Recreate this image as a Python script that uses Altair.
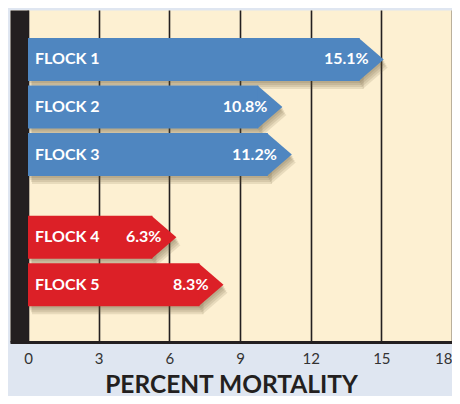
import altair as alt
import pandas as pd

flocks = ["FLOCK 1", "FLOCK 2", "FLOCK 3", "FLOCK 4", "FLOCK 5"]
mortality = [15.1, 10.8, 11.2, 6.3, 8.3]
groups = ["A", "A", "A", "B", "B"]
group_colors = ["#4f86c0", "#dc2027"]
x_ticks = [0, 3, 6, 9, 12, 15, 18]

GAP = 0.74
HALF = 0.4526
df = pd.DataFrame({"flock": flocks, "value": mortality, "group": groups})
df["row"] = range(len(df))
df["pos"] = df["row"] + df["group"].eq("B") * GAP
df["label"] = df["value"].map(lambda v: f"{v:.1f}%")

xscale = alt.Scale(domain=[-0.764, 18], nice=False, zero=False, padding=0)
yscale = alt.Scale(domain=[-1.042, 5.947], reverse=True, nice=False, zero=False, padding=0)
cscale = alt.Scale(domain=["A", "B"], range=group_colors)
XT = "PERCENT MORTALITY"
xaxis = alt.Axis(values=x_ticks, labelFlush=True)

base = alt.Chart(df).transform_calculate(
    top=f"datum.pos - {HALF}", bot=f"datum.pos + {HALF}", zero="0"
)

ARROW = "M -1.16 -1 L 0 0 L -1.16 1 Z"
layers = []
for dx, dy in [(1, 2), (2, 4), (3, 6), (4, 8)]:
    layers.append(base.mark_rect(color="#5a4a30", opacity=0.13, xOffset=dx, x2Offset=dx - 24,
                                 yOffset=dy, y2Offset=dy).encode(
        x=alt.X("zero:Q", scale=xscale, title=XT, axis=xaxis),
        x2=alt.X2("value:Q"),
        y=alt.Y("top:Q", scale=yscale, title=""),
        y2="bot:Q",
    ))
    layers.append(base.mark_point(shape=ARROW, size=1849, filled=True, opacity=0.13,
                                  color="#5a4a30", strokeWidth=0, xOffset=dx, yOffset=dy).encode(
        x=alt.X("value:Q", scale=xscale, title=XT, axis=xaxis),
        y=alt.Y("pos:Q", scale=yscale, title=""),
    ))

bars = base.mark_rect(x2Offset=-24).encode(
    x=alt.X("zero:Q", scale=xscale, title=XT, axis=xaxis),
    x2=alt.X2("value:Q"),
    y=alt.Y("top:Q", scale=yscale, title=""),
    y2="bot:Q",
    color=alt.Color("group:N", scale=cscale, legend=None),
)
tips = base.mark_point(shape=ARROW, size=1849, filled=True, opacity=1, strokeWidth=0).encode(
    x=alt.X("value:Q", scale=xscale, title=XT, axis=xaxis),
    y=alt.Y("pos:Q", scale=yscale, title=""),
    color=alt.Color("group:N", scale=cscale, legend=None),
)
names = base.mark_text(align="left", baseline="middle", dx=7, font="Lato", fontSize=16,
                       fontWeight="bold", color="white").encode(
    x=alt.X("zero:Q", scale=xscale, title=XT, axis=xaxis),
    y=alt.Y("pos:Q", scale=yscale, title=""),
    text="flock:N",
)
vals = base.mark_text(align="right", baseline="middle", dx=-15, font="Lato", fontSize=16,
                      fontWeight="bold", color="white").encode(
    x=alt.X("value:Q", scale=xscale, title=XT, axis=xaxis),
    y=alt.Y("pos:Q", scale=yscale, title=""),
    text="label:N",
)

chart = alt.layer(*layers, bars, tips, names, vals).properties(
    width=442, height=332,
    background="#dfe6f1",
    padding={"left": 2, "top": 2, "right": 0, "bottom": 54},
    autosize=alt.AutoSizeParams(type="none"),
).configure_view(
    fill="#fdf0d2", stroke="transparent"
).configure_axisX(
    grid=True, gridColor="#231f20", gridWidth=1.6, ticks=False,
    domainColor="#231f20", domainWidth=3, labelFont="Lato", labelFontSize=15,
    labelColor="#333333", labelPadding=9, titleFont="Lato", titleFontSize=24.5,
    titleFontWeight="bold", titleColor="#231f20", titlePadding=7,
).configure_axisY(
    domain=True, domainWidth=18, domainColor="#231f20", offset=-9,
    labels=False, ticks=False, grid=False,
)

chart.save("out.html", embed_options={"renderer": "svg", "actions": False})
